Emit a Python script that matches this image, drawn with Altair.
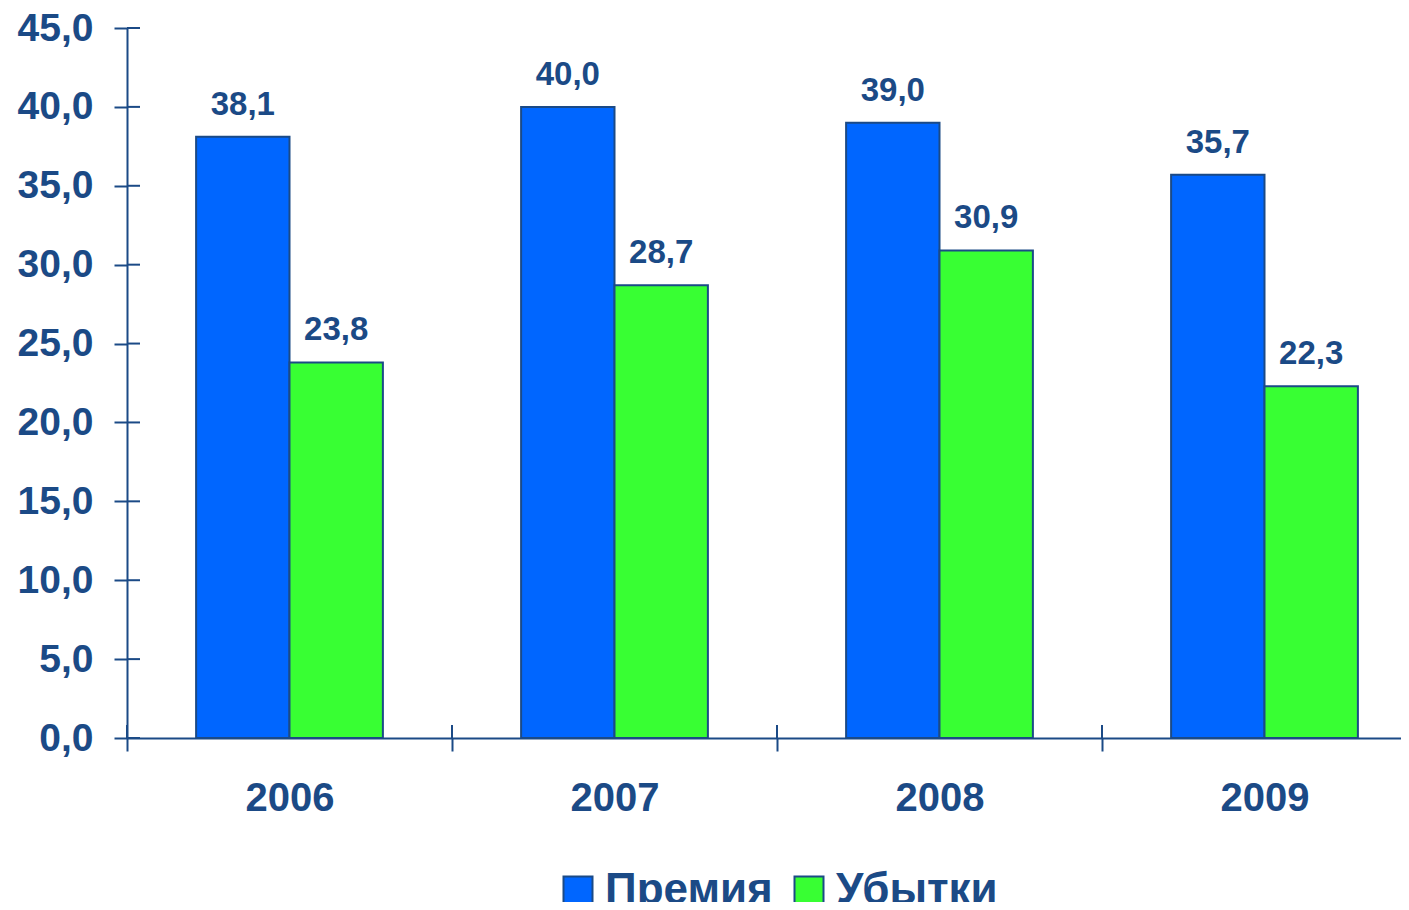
import altair as alt
import pandas as pd

years = ["2006", "2007", "2008", "2009"]
premium = [38.1, 40.0, 39.0, 35.7]
losses = [23.8, 28.7, 30.9, 22.3]
series_names = ["Премия", "Убытки"]
series_colors = ["#0066FF", "#38FF33"]
y_ticks = [0, 5, 10, 15, 20, 25, 30, 35, 40, 45]

NAVY = "#1B4A86"
FONT = "Liberation Sans"

rows = []
for i, yr in enumerate(years):
    rows.append({"year": yr, "series": series_names[0], "value": premium[i]})
    rows.append({"year": yr, "series": series_names[1], "value": losses[i]})
df = pd.DataFrame(rows)
df["label"] = df["value"].map(lambda v: f"{v:.1f}".replace(".", ","))

H = 710

x_enc = alt.X(
    "year:N",
    sort=years,
    scale=alt.Scale(range=[0, 1300], paddingInner=0, paddingOuter=0),
    axis=alt.Axis(
        title=None, labelAngle=0, tickBand="extent", tickSize=13,
        labelPadding=27, labelFontSize=40,
    ),
)
xo_enc = alt.XOffset(
    "series:N",
    scale=alt.Scale(domain=series_names, paddingOuter=0.74, paddingInner=0),
)
y_enc = alt.Y(
    "value:Q",
    scale=alt.Scale(domain=[0, 45], nice=False),
    axis=alt.Axis(
        values=y_ticks, title=None, grid=False, tickSize=13, labelPadding=21,
        labelFontSize=39,
        labelExpr="replace(format(datum.value, '.1f'), '.', ',')",
    ),
)

bars = alt.Chart(df).mark_bar(stroke=NAVY, strokeWidth=2).encode(
    x=x_enc,
    xOffset=xo_enc,
    y=y_enc,
    color=alt.Color(
        "series:N",
        scale=alt.Scale(domain=series_names, range=series_colors),
        legend=alt.Legend(
            title=None, orient="none", legendX=429, legendY=841,
            direction="horizontal", symbolType="square", symbolSize=841,
            symbolStrokeColor=NAVY, symbolStrokeWidth=2, symbolOpacity=1,
            labelFontSize=44, labelFont=FONT, labelFontWeight="bold",
            labelColor=NAVY, labelOffset=5, columnPadding=14, labelLimit=0,
        ),
    ),
)

labels = alt.Chart(df).mark_text(
    dy=-22, baseline="alphabetic", fontSize=33, fontWeight="bold",
    color=NAVY, font=FONT,
).encode(
    x=alt.X("year:N", sort=years),
    xOffset=alt.XOffset("series:N"),
    y=alt.Y("value:Q"),
    text="label:N",
)

ytick_df = pd.DataFrame({"value": y_ticks})
ytick_in = alt.Chart(ytick_df).mark_rule(color=NAVY, strokeWidth=2).encode(
    y=alt.Y("value:Q"),
    x=alt.value(0),
    x2=alt.value(13),
)

xtick_df = pd.DataFrame({"year": years})
xtick_in = alt.Chart(xtick_df).mark_rule(color=NAVY, strokeWidth=2).encode(
    x=alt.X("year:N", sort=years, bandPosition=0),
    y=alt.value(H - 13),
    y2=alt.value(H),
)

chart = alt.layer(bars, labels, ytick_in, xtick_in).properties(
    width=1274,
    height=H,
    autosize=alt.AutoSizeParams(type="none"),
    padding={"left": 119, "top": 20, "right": 0, "bottom": 164},
).configure_view(stroke=None).configure_axis(
    domainColor=NAVY, domainWidth=2, tickColor=NAVY, tickWidth=2,
    labelColor=NAVY, labelFont=FONT, labelFontWeight="bold",
).configure_legend(padding=0)

chart.save("out.html", embed_options={"renderer": "svg", "actions": False})
